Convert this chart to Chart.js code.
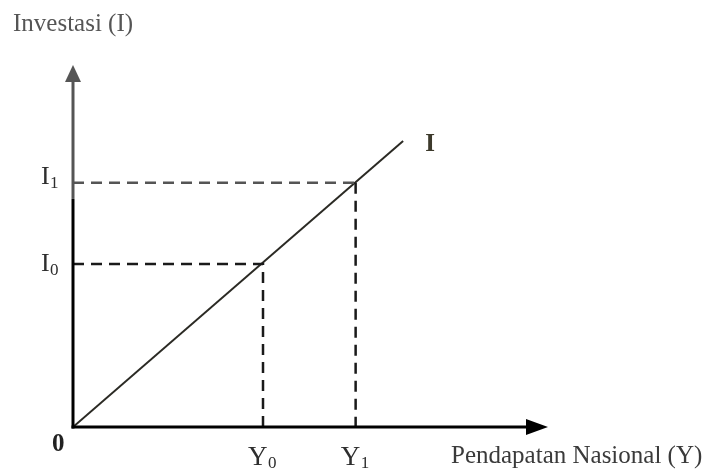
<!DOCTYPE html>
<html>
<head>
<meta charset="utf-8">
<script src="https://cdn.jsdelivr.net/npm/chart.js@4"></script>
<style>
  html, body { margin: 0; padding: 0; background: #fff; }
  #wrap { width: 703px; height: 471px; }
</style>
</head>
<body>
<div id="wrap"><canvas id="chart" width="703" height="471"></canvas></div>
<script>
// values (arbitrary units, axes run 0..10)
const incomeLevels = [4, 5.95];          // Y0, Y1
const investLevels = [4.5, 6.75];        // I0, I1
const incomeLabels = ["0", "1"];         // subscripts for Y
const investLabels = ["0", "1"];         // subscripts for I
const lineIncome = [0, 6.95];
const lineInvest = [0, 7.9];
const axisMax = 10;

const SERIF = "'Liberation Serif', 'Times New Roman', serif";

// one dashed guide per level: from the I axis across to the point and down to the Y axis
const guideSets = incomeLevels.map((y, i) => ({
    data: [
        { x: 0, y: investLevels[i] },
        { x: y, y: investLevels[i] },
        { x: y, y: 0 },
    ],
    showLine: true,
    borderColor: "#111",
    // the upper horizontal guide is greyer in the scan
    segment: {
        borderColor: (c) => (i === 1 && c.p0DataIndex === 0 ? "#555" : "#1a1a1a"),
    },
    borderWidth: 2.5,
    borderDash: [11, 7],
    pointRadius: 0,
    fill: false,
}));

const axesPlugin = {
    id: "axes",
    afterDatasetsDraw(chart) {
        const { ctx, scales } = chart;
        const x = scales.x, y = scales.y;
        const ox = x.getPixelForValue(0), oy = y.getPixelForValue(0);
        const tx = x.getPixelForValue(axisMax), ty = y.getPixelForValue(axisMax);
        const split = y.getPixelForValue(6.3);

        ctx.save();
        ctx.lineWidth = 3;
        ctx.lineCap = "butt";

        // vertical axis, lower part black, upper part grey as in the scan
        ctx.strokeStyle = "#000";
        ctx.beginPath(); ctx.moveTo(ox, oy + 1.5); ctx.lineTo(ox, split); ctx.stroke();
        ctx.strokeStyle = "#555";
        ctx.beginPath(); ctx.moveTo(ox, split); ctx.lineTo(ox, ty + 12); ctx.stroke();
        ctx.fillStyle = "#555";
        ctx.beginPath();
        ctx.moveTo(ox, ty); ctx.lineTo(ox - 8, ty + 17); ctx.lineTo(ox + 8, ty + 17);
        ctx.closePath(); ctx.fill();

        // horizontal axis
        ctx.strokeStyle = "#000";
        ctx.beginPath(); ctx.moveTo(ox - 1.5, oy); ctx.lineTo(tx - 12, oy); ctx.stroke();
        ctx.fillStyle = "#000";
        ctx.beginPath();
        ctx.moveTo(tx, oy); ctx.lineTo(tx - 22, oy - 8); ctx.lineTo(tx - 22, oy + 8);
        ctx.closePath(); ctx.fill();
        ctx.restore();
    },
    afterDraw(chart) {
        const { ctx, scales } = chart;
        const x = scales.x, y = scales.y;
        const ox = x.getPixelForValue(0), oy = y.getPixelForValue(0);

        ctx.save();
        ctx.textBaseline = "alphabetic";
        ctx.textAlign = "left";

        ctx.fillStyle = "#555";
        ctx.font = "25px " + SERIF;
        ctx.fillText("Investasi (I)", 13, 31);

        ctx.fillStyle = "#3a3a3a";
        ctx.fillText("Pendapatan Nasional (Y)", 451, 463);

        // I0, I1 on the vertical axis
        const iDy = [7, 1];
        investLevels.forEach((v, i) => {
            const py = y.getPixelForValue(v) + iDy[i];
            ctx.fillStyle = "#2e2e2e";
            ctx.font = "26px " + SERIF;
            ctx.fillText("I", ox - 32, py);
            ctx.font = "17px " + SERIF;
            ctx.fillText(investLabels[i], ox - 23, py + 4);
        });

        // Y0, Y1 under the horizontal axis
        incomeLevels.forEach((v, i) => {
            const px = x.getPixelForValue(v);
            ctx.fillStyle = "#2e2e2e";
            ctx.font = "27px " + SERIF;
            ctx.fillText("Y", px - 15, oy + 38);
            ctx.font = "17px " + SERIF;
            ctx.fillText(incomeLabels[i], px + 5, oy + 41);
        });

        // origin
        ctx.font = "bold 25px " + SERIF;
        ctx.fillStyle = "#222";
        ctx.fillText("0", ox - 21, oy + 24);

        // curve label
        const ex = x.getPixelForValue(lineIncome[1]);
        const ey = y.getPixelForValue(lineInvest[1]);
        ctx.fillStyle = "#3d3a2c";
        ctx.font = "bold 25px " + SERIF;
        ctx.fillText("I", ex + 22, ey + 10);
        ctx.restore();
    },
};

new Chart(document.getElementById("chart"), {
    type: "scatter",
    data: {
        datasets: [
            ...guideSets,
            {
                data: lineIncome.map((v, i) => ({ x: v, y: lineInvest[i] })),
                showLine: true,
                borderColor: "#2b2a24",
                borderWidth: 2,
                pointRadius: 0,
                fill: false,
            },
        ],
    },
    options: {
        responsive: false,
        animation: false,
        layout: { padding: { left: 73, right: 155, top: 65, bottom: 44 } },
        plugins: { legend: { display: false }, tooltip: { enabled: false } },
        scales: {
            x: { type: "linear", min: 0, max: axisMax, display: false },
            y: { type: "linear", min: 0, max: axisMax, display: false },
        },
    },
    plugins: [axesPlugin],
});
</script>
</body>
</html>
